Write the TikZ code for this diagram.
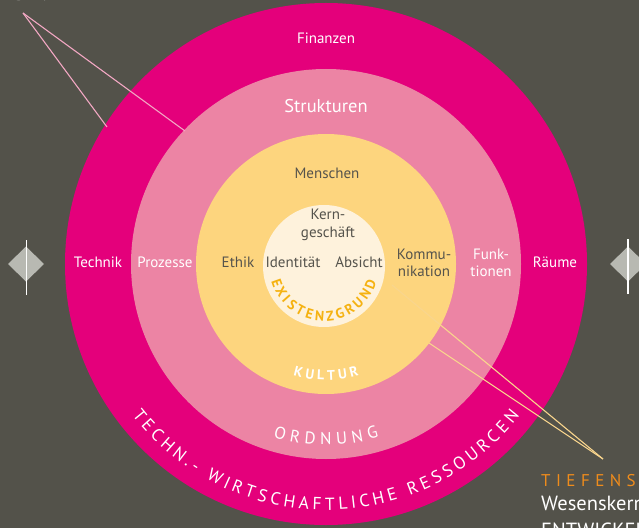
\documentclass[tikz,border=0pt]{standalone}
\usepackage{fontspec}
\setmainfont{PT Sans}
\setsansfont{PT Sans}
\newfontfamily\spacedfont[LetterSpace=32]{PT Sans}
\usetikzlibrary{decorations.text}
\definecolor{bg}{HTML}{53524A}
\definecolor{magentaring}{HTML}{E4007B}
\definecolor{pinkring}{HTML}{EC84A4}
\definecolor{yellowring}{HTML}{FDD57E}
\definecolor{creamcore}{HTML}{FEF2DC}
\definecolor{darktext}{HTML}{55534C}
\definecolor{goldtext}{HTML}{F5B212}
\definecolor{orangetext}{HTML}{EF8C1C}
\definecolor{diamondgray}{HTML}{B8B9B2}
\definecolor{pinkline}{HTML}{F2A7C3}
\definecolor{yellowline}{HTML}{F9D58D}
\tikzset{
  ring/.style={circle, inner sep=0pt, draw=none},
  lbl/.style={font=\fontsize{15}{17.5}\selectfont, align=center, inner sep=0pt},
  whitelbl/.style={lbl, text=white},
  darklbl/.style={lbl, text=darktext},
  pinkconn/.style={draw=pinkline, line width=1.1pt},
  yellowconn/.style={draw=yellowline, line width=1.1pt},
  marker/.style={fill=diamondgray, draw=none},
  markerline/.style={draw=white, line width=1.6pt},
}
\begin{document}
\begin{tikzpicture}[x=1pt,y=1pt]
\useasboundingbox (0,0) rectangle (639,528);
\clip (0,0) rectangle (639,528);
\fill[bg] (0,0) rectangle (639,528);

% rings
\node[ring, fill=magentaring, minimum size=522pt] (outer) at (326,264) {};
\node[ring, fill=pinkring, minimum size=390pt] (struct) at (326,264) {};
\node[ring, fill=yellowring, minimum size=260pt] (kult) at (326,264) {};
\node[ring, fill=creamcore, minimum size=122pt] (core) at (324,262) {};

% side markers
\fill[marker] (8,264) -- (26,281.5) -- (44,264) -- (26,246.5) -- cycle;
\draw[markerline] (26.5,233) -- (26.5,288);
\fill[marker] (610,264) -- (628,281.5) -- (646,264) -- (628,246.5) -- cycle;
\draw[markerline] (628,234) -- (628,289);

% connectors top-left
\coordinate (tl) at (23,515);
\coordinate (tlA) at (107,401);
\coordinate (tlB) at (185,397);
\draw[pinkconn] (tl) -- (tlA);
\draw[pinkconn] (tl) -- (tlB);

% connectors bottom-right
\coordinate (br) at (603,69);
\coordinate (brA) at (392,243);
\coordinate (brB) at (429,185);
\draw[yellowconn] (br) -- (brA);
\draw[yellowconn] (br) -- (brB);

% labels
\node[whitelbl] (finanzen) at (326,490) {Finanzen};
\node[whitelbl, font=\fontsize{18.5}{20}\selectfont] (strukturen) at (326,422) {Strukturen};
\node[darklbl] (menschen) at (327,355) {Menschen};
\node[whitelbl] (technik) at (98,266) {Technik};
\node[whitelbl] (prozesse) at (165,266) {Prozesse};
\node[darklbl] (ethik) at (238,266) {Ethik};
\node[darklbl] (identitaet) at (293,266) {Identität};
\node[darklbl] (absicht) at (359,266) {Absicht};
\node[darklbl] (kern) at (328,303) {Kern-\\geschäft};
\node[darklbl] (kommu) at (424,265) {Kommu-\\nikation};
\node[whitelbl] (funk) at (491,265) {Funk-\\tionen};
\node[whitelbl] (raeume) at (555,266) {Räume};

% curved labels
\path[decorate, decoration={text along path, text align={fit to path},
  text={|\fontsize{14}{14}\selectfont\bfseries\color{white}|KULTUR}}]
  (326,264) ++(253.5:116) arc[start angle=253.5, end angle=286.5, radius=116];
\path[decorate, decoration={text along path, text align={fit to path},
  text={|\fontsize{17}{17}\selectfont\color{white}|ORDNUNG}}]
  (326,264) ++(253:181) arc[start angle=253, end angle=287, radius=181];
\path[decorate, decoration={text along path, text align={fit to path},
  text={|\fontsize{17.5}{17.5}\selectfont\color{white}|TECHN.- WIRTSCHAFTLICHE RESSOURCEN}}]
  (326,264) ++(218:246) arc[start angle=218, end angle=322, radius=246];
\path[decorate, decoration={text along path, text align={fit to path},
  text={|\fontsize{14}{14}\selectfont\bfseries\color{goldtext}|EXISTENZGRUND}}]
  (324,262) ++(196:55) arc[start angle=196, end angle=343, radius=55];

% side texts (cut by the frame)
\node[anchor=base west, inner sep=0pt, text=orangetext, font=\spacedfont\fontsize{17}{17}\selectfont] (tiefen) at (541,42) {TIEFENSTRUKTUR};
\node[anchor=base west, inner sep=0pt, text=white, font=\fontsize{20.5}{20.5}\selectfont] (wesen) at (541,18) {Wesenskern};
\node[anchor=base west, inner sep=0pt, text=white, font=\fontsize{20.5}{20.5}\selectfont] (entw) at (541,-9) {ENTWICKELN};
\node[anchor=base east, inner sep=0pt, text=white, font=\fontsize{18}{18}\selectfont] (topword) at (47,527) {BEN};
\end{tikzpicture}
\end{document}
